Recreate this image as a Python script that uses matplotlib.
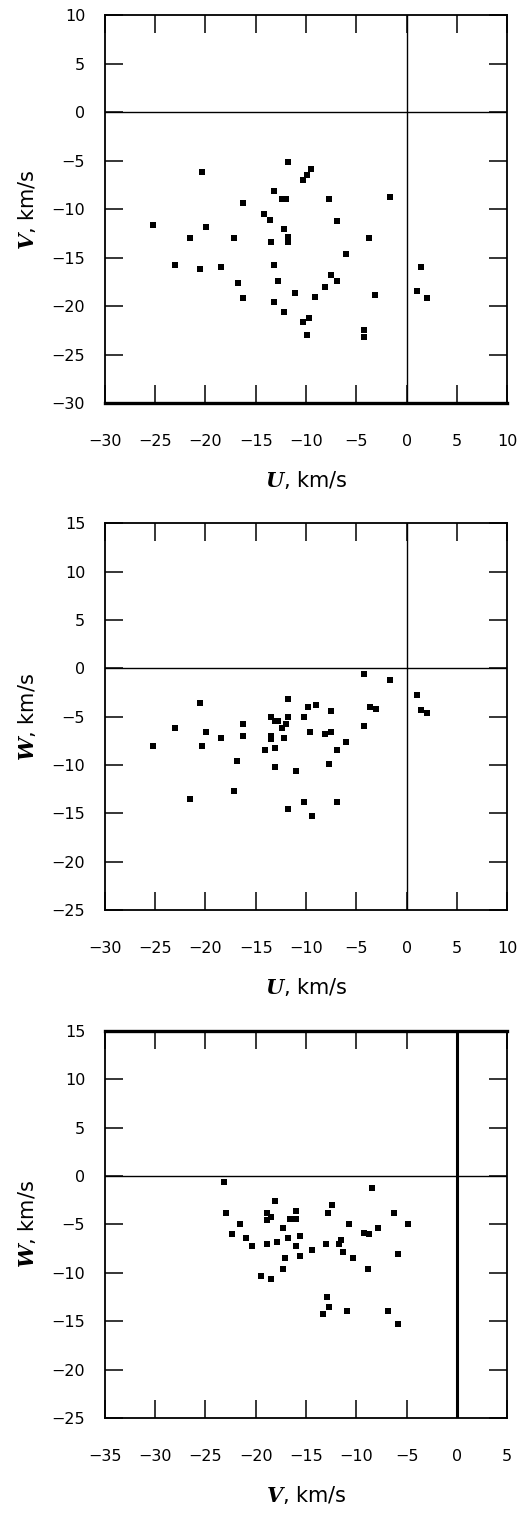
import matplotlib
matplotlib.use("Agg")
import matplotlib.pyplot as plt
import numpy as np

plt.rcParams['font.family'] = ['DejaVu Sans']
plt.rcParams['mathtext.fontset'] = 'dejavuserif'

# Panel 1: U vs V
u1 = [-11.8, -20.3, -9.5, -9.9, -10.3, -13.2, -12.4, -12.0, -7.75, -1.7,
      -16.25, -14.2, -13.6, -6.95, -25.2, -19.9, -12.2, -21.5, -17.2, -13.5,
      -11.8, -11.8, -3.7, -23.0, -20.5, -18.4, -13.2, -6.0, 1.4, -16.8,
      -12.8, -7.55, -6.95, -8.15, -11.05, -3.1, 1.0, 2.0, -16.25, -9.1,
      -13.2, -12.2, -9.66, -10.26, -9.86, -4.24, -4.24]
v1 = [-5.1, -6.2, -5.9, -6.5, -7.0, -8.1, -9.0, -9.0, -9.0, -8.7,
      -9.4, -10.5, -11.1, -11.2, -11.6, -11.8, -12.0, -13.0, -13.0, -13.35,
      -12.9, -13.4, -13.0, -15.8, -16.2, -15.95, -15.8, -14.6, -16.0, -17.6,
      -17.4, -16.8, -17.4, -18.05, -18.6, -18.8, -18.4, -19.2, -19.2, -19.0,
      -19.6, -20.6, -21.2, -21.6, -23.0, -22.4, -23.2]

# Panel 2: U vs W
u2 = [-20.5, -11.8, -13.5, -13.1, -12.8, -11.8, -12.0, -12.4, -16.25, -23.0,
      -19.9, -18.4, -16.25, -13.5, -13.5, -12.2, -25.2, -20.3, -14.1, -13.1,
      -16.85, -13.1, -11.0, -4.2, -1.7, 1.0, 1.45, 2.0, -9.8, -9.0,
      -7.5, -3.65, -3.05, -10.2, -9.6, -8.1, -7.5, -4.2, -6.0, -6.9,
      -7.7, -21.5, -17.2, -11.8, -10.2, -6.9, -9.4]
w2 = [-3.6, -3.2, -5.0, -5.4, -5.4, -5.0, -5.8, -6.2, -5.8, -6.2,
      -6.6, -7.2, -7.0, -7.0, -7.3, -7.2, -8.0, -8.0, -8.4, -8.2,
      -9.6, -10.2, -10.6, -0.55, -1.2, -2.75, -4.35, -4.6, -3.95, -3.75,
      -4.4, -3.95, -4.15, -5.0, -6.6, -6.8, -6.6, -6.0, -7.6, -8.4,
      -9.85, -13.5, -12.7, -14.5, -13.85, -13.85, -15.3]

# Panel 3: V vs W
v3 = [-23.15, -8.45, -18.1, -22.95, -18.9, -18.5, -18.9, -16.0, -16.6, -15.95,
      -21.6, -17.3, -22.4, -21.0, -20.4, -18.9, -17.9, -16.8, -15.6, -15.95,
      -14.4, -13.05, -17.1, -15.6, -17.3, -19.45, -18.5, -12.46, -12.86, -6.3,
      -4.9, -10.75, -9.2, -8.75, -7.85, -11.7, -11.5, -11.3, -10.35, -5.9,
      -8.8, -12.9, -12.7, -13.3, -10.9, -6.9, -5.9]
w3 = [-0.6, -1.2, -2.6, -3.8, -3.8, -4.2, -4.6, -3.6, -4.4, -4.4,
      -5.0, -5.4, -6.0, -6.4, -7.2, -7.0, -6.8, -6.4, -6.2, -7.2,
      -7.65, -7.0, -8.45, -8.25, -9.65, -10.3, -10.6, -3.0, -3.8, -3.8,
      -5.0, -5.0, -5.85, -6.0, -5.4, -7.0, -6.6, -7.85, -8.45, -8.05,
      -9.65, -12.5, -13.5, -14.3, -13.9, -13.9, -15.3]

panels = [
    dict(x=u1, y=v1, xlim=(-30, 10), ylim=(-30, 10),
         xticks=np.arange(-30, 11, 5), yticks=np.arange(-30, 11, 5),
         xlabel=r'$\boldsymbol{U}$, km/s', ylabel=r'$\boldsymbol{V}$, km/s',
         rect=[0.2002, 0.7336, 0.7698, 0.2565], thick_spine='bottom', vlw=1.0),
    dict(x=u2, y=w2, xlim=(-30, 10), ylim=(-25, 15),
         xticks=np.arange(-30, 11, 5), yticks=np.arange(-25, 16, 5),
         xlabel=r'$\boldsymbol{U}$, km/s', ylabel=r'$\boldsymbol{W}$, km/s',
         rect=[0.2002, 0.3988, 0.7698, 0.2556], thick_spine=None, vlw=1.0),
    dict(x=v3, y=w3, xlim=(-35, 5), ylim=(-25, 15),
         xticks=np.arange(-35, 6, 5), yticks=np.arange(-25, 16, 5),
         xlabel=r'$\boldsymbol{V}$, km/s', ylabel=r'$\boldsymbol{W}$, km/s',
         rect=[0.2002, 0.0634, 0.7698, 0.2558], thick_spine='top', vlw=2.2),
]


def fmt(t):
    t = int(t)
    return f'\u2212{abs(t)}' if t < 0 else f'{t}'


fig = plt.figure(figsize=(5.23, 15.14), dpi=100)
for p in panels:
    ax = fig.add_axes(p['rect'])
    ax.axhline(0, color='black', lw=1.0, zorder=1)
    ax.axvline(0, color='black', lw=p['vlw'], zorder=1)
    ax.scatter(p['x'], p['y'], marker='s', s=13, color='black',
               linewidths=0, zorder=3)
    ax.set_xlim(*p['xlim'])
    ax.set_ylim(*p['ylim'])
    ax.set_xticks(p['xticks'])
    ax.set_yticks(p['yticks'])
    ax.set_xticklabels([fmt(t) for t in p['xticks']])
    ax.set_yticklabels([fmt(t) for t in p['yticks']])
    ax.tick_params(axis='both', which='major', direction='in', length=13,
                   width=1.1, top=True, right=True, labelsize=11.5,
                   color='black', labelcolor='black')
    ax.tick_params(axis='x', pad=22)
    ax.tick_params(axis='y', pad=14)
    for s in ax.spines.values():
        s.set_linewidth(1.3)
        s.set_color('black')
    if p['thick_spine']:
        ax.spines[p['thick_spine']].set_linewidth(2.4)
    ax.set_xlabel(p['xlabel'], fontsize=15)
    ax.set_ylabel(p['ylabel'], fontsize=15)
    ax.xaxis.set_label_coords(0.5, -0.1975)
    ax.xaxis.label.set_va('center')
    ax.yaxis.set_label_coords(-0.194, 0.5)
    ax.yaxis.label.set_va('center')

fig.savefig('out.png', dpi=100, facecolor='white')
